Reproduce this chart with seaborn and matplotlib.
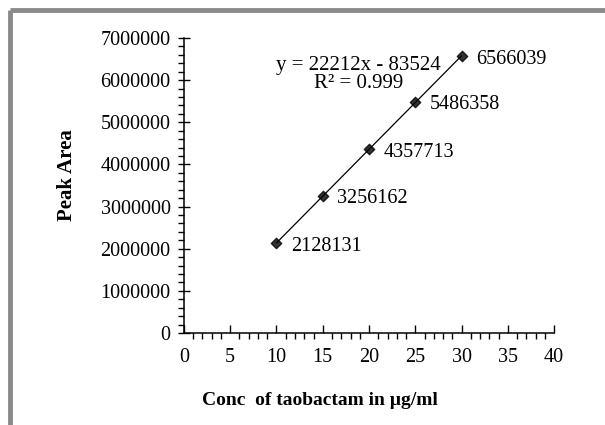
import matplotlib

matplotlib.use("Agg")

import matplotlib.pyplot as plt
import numpy as np
import pandas as pd
import seaborn as sns
from matplotlib.lines import Line2D
from matplotlib.ticker import FuncFormatter, MultipleLocator

conc = [10, 15, 20, 25, 30]
peak_area = [2128131, 3256162, 4357713, 5486358, 6566039]
point_labels = ["2128131", "3256162", "4357713", "5486358", "6566039"]
equation_text = "y = 22212x - 83524\nR\u00b2 = 0.999"

df = pd.DataFrame({"conc": conc, "area": peak_area})

sns.set_theme(style="white")
plt.rcParams["font.family"] = ["Liberation Serif", "DejaVu Serif"]
for key in ["text.color", "axes.labelcolor", "xtick.color", "ytick.color"]:
    plt.rcParams[key] = "black"

fig = plt.figure(figsize=(6.05, 4.25), dpi=100)
ax = fig.add_axes([0.304, 0.2165, 0.612, 0.694])

sns.regplot(
    data=df, x="conc", y="area", ax=ax, ci=None, color="black",
    marker="D", scatter_kws={"s": 28, "zorder": 3},
    line_kws={"lw": 0.9},
)

for xv, yv, lab in zip(conc, peak_area, point_labels):
    ax.annotate(lab, (xv, yv), xytext=(10.5, -2), textcoords="offset points",
                ha="left", va="center", fontsize=14.5)

ax.text(18.9, 6130000, equation_text, ha="center", va="center",
        fontsize=15, linespacing=0.9)

ax.set_xlim(0, 40)
ax.set_ylim(0, 7000000)
ax.xaxis.set_major_locator(MultipleLocator(5))
ax.xaxis.set_minor_locator(MultipleLocator(1))
ax.yaxis.set_major_locator(MultipleLocator(1000000))
ax.yaxis.set_minor_locator(MultipleLocator(200000))
ax.yaxis.set_major_formatter(FuncFormatter(lambda v, p: f"{int(v)}"))

ax.tick_params(axis="x", which="major", direction="in", length=6, width=1, labelsize=14.5, pad=11)
ax.tick_params(axis="x", which="minor", direction="out", length=4, width=1)
ax.tick_params(axis="y", which="major", direction="inout", length=9, width=1, labelsize=14.5, pad=5)
ax.tick_params(axis="y", which="minor", direction="out", length=4, width=1)
ax.tick_params(bottom=True, left=True, which="both", colors="black")

for side in ["top", "right"]:
    ax.spines[side].set_visible(False)
for side in ["left", "bottom"]:
    ax.spines[side].set_color("black")
    ax.spines[side].set_linewidth(1.1)

ax.set_xlabel("Conc  of taobactam in \u00b5g/ml", fontsize=14, fontweight="bold")
ax.set_ylabel("Peak Area", fontsize=15, fontweight="bold")
ax.xaxis.set_label_coords(0.368, -0.2)
ax.yaxis.set_label_coords(-0.288, 0.536)

# grey frame at top and left edge of the picture
fig.add_artist(Line2D([10 / 605, 1], [1 - 10 / 425] * 2, transform=fig.transFigure,
                      color="#8a8a8a", lw=3.5, solid_capstyle="butt"))
fig.add_artist(Line2D([10 / 605] * 2, [0, 1 - 10 / 425], transform=fig.transFigure,
                      color="#8a8a8a", lw=3.5, solid_capstyle="butt"))

fig.savefig("out.png", dpi=100, facecolor="white")
